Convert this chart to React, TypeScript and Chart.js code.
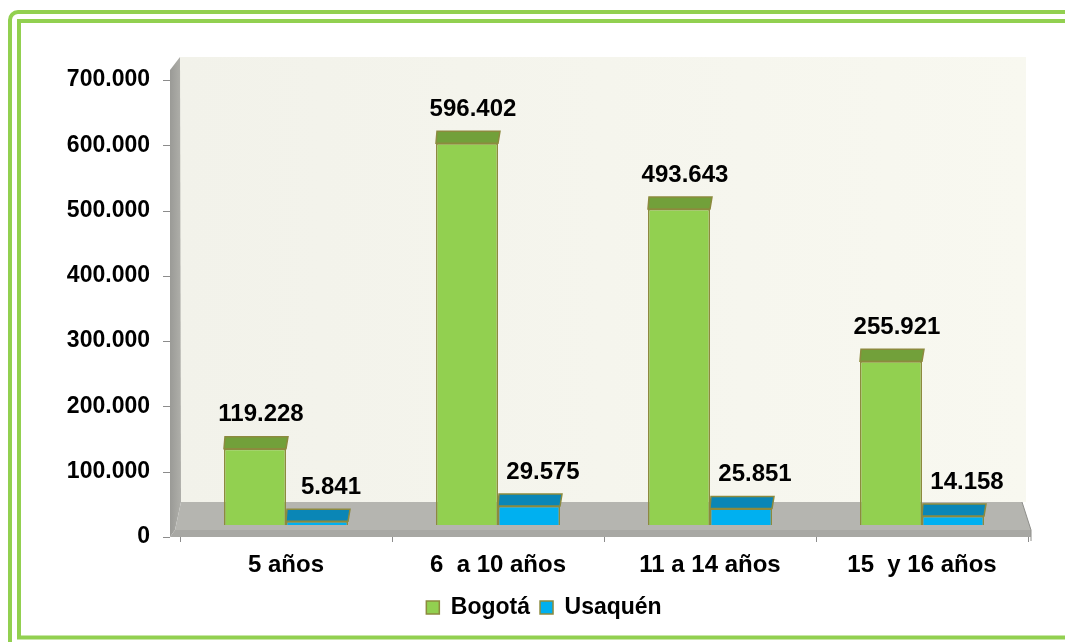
import { useEffect, useRef } from 'react';
import { Chart, registerables } from 'chart.js';

Chart.register(...registerables);

const categories = ['5 años', '6  a 10 años', '11 a 14 años', '15  y 16 años'];
const seriesNames = ['Bogotá', 'Usaquén'];
const bogota = [119228, 596402, 493643, 255921];
const usaquen = [5841, 29575, 25851, 14158];
const yMin = 0;
const yMax = 700000;
const yStep = 100000;

const frontColors = ['#92D050', '#00B0F0'];
const topColors = ['#72A03A', '#0A86B6'];
const edgeColor = '#8C8A3E';
const labelShift = [6, 14];

const FONT = '"Liberation Sans", Arial, sans-serif';

const fmt = (v: number) =>
  Math.round(v)
    .toString()
    .replace(/\B(?=(\d{3})+(?!\d))/g, '.');

const scenePlugin = {
  id: 'scene3d',
  beforeDraw(chart: any) {
    const { ctx, chartArea: a, width, height } = chart;
    ctx.save();
    ctx.fillStyle = '#FFFFFF';
    ctx.fillRect(0, 0, width, height);

    // frames
    ctx.strokeStyle = '#92D050';
    ctx.lineWidth = 4;
    ctx.beginPath();
    (ctx as any).roundRect(10, 12, width + 40, height + 40, 8);
    ctx.stroke();
    ctx.beginPath();
    ctx.rect(19, 21, width + 40, 616.5);
    ctx.stroke();

    const L = a.left;
    const R = a.right;
    const T = a.top;
    const B = a.bottom;
    const floorBack = B - 35;
    const floorFront = B - 7;

    // back wall
    const g = ctx.createLinearGradient(L, 0, R, 0);
    g.addColorStop(0, '#F2F2EA');
    g.addColorStop(1, '#F8F8F0');
    ctx.fillStyle = g;
    ctx.fillRect(L, T - 23, R - 2 - L, floorBack - (T - 23));

    // side wall
    const sg = ctx.createLinearGradient(L - 10, 0, L, 0);
    sg.addColorStop(0, '#9A9A96');
    sg.addColorStop(1, '#ADADA8');
    ctx.fillStyle = sg;
    ctx.beginPath();
    ctx.moveTo(L - 10, T - 10);
    ctx.lineTo(L, T - 23);
    ctx.lineTo(L + 1, floorBack);
    ctx.lineTo(L - 5, floorFront);
    ctx.lineTo(L - 10, B);
    ctx.closePath();
    ctx.fill();

    // floor
    ctx.fillStyle = '#B5B5B0';
    ctx.beginPath();
    ctx.moveTo(L + 1, floorBack);
    ctx.lineTo(R - 6, floorBack);
    ctx.lineTo(R + 3, floorFront);
    ctx.lineTo(L - 5, floorFront);
    ctx.closePath();
    ctx.fill();
    ctx.fillStyle = '#A8A8A4';
    ctx.beginPath();
    ctx.moveTo(L - 5, floorFront);
    ctx.lineTo(R + 3, floorFront);
    ctx.lineTo(R + 3, B);
    ctx.lineTo(L - 10, B);
    ctx.closePath();
    ctx.fill();
    ctx.strokeStyle = '#8E8E8A';
    ctx.lineWidth = 1;
    ctx.beginPath();
    ctx.moveTo(R - 6, floorBack);
    ctx.lineTo(R + 3, floorFront);
    ctx.lineTo(R + 3, B + 4);
    ctx.stroke();
    ctx.restore();
  },
  afterDatasetsDraw(chart: any) {
    const { ctx } = chart;
    const depth = 12;
    ctx.save();
    chart.data.datasets.forEach((ds: any, di: number) => {
      const meta = chart.getDatasetMeta(di);
      meta.data.forEach((bar: any, i: number) => {
        const { x, y, width } = bar.getProps(['x', 'y', 'width'], true);
        const x0 = x - width / 2;
        ctx.fillStyle = topColors[di];
        ctx.strokeStyle = edgeColor;
        ctx.lineWidth = 1.5;
        ctx.beginPath();
        ctx.moveTo(x0, y);
        ctx.lineTo(x0 + 1, y - depth);
        ctx.lineTo(x0 + width + 2, y - depth);
        ctx.lineTo(x0 + width, y);
        ctx.closePath();
        ctx.fill();
        ctx.stroke();
        ctx.fillStyle = '#000000';
        ctx.font = `bold 24px ${FONT}`;
        ctx.textAlign = 'center';
        ctx.textBaseline = 'middle';
        ctx.fillText(fmt(ds.data[i]), x + labelShift[di], y - depth - 22);
      });
    });
    ctx.restore();
  },
  afterDraw(chart: any) {
    const { ctx, chartArea: a } = chart;
    const ys = chart.scales.y;
    ctx.save();
    ctx.strokeStyle = '#8C8C8C';
    ctx.lineWidth = 1;
    ys.ticks.forEach((t: any) => {
      const py = Math.round(ys.getPixelForValue(t.value)) + 0.5;
      ctx.beginPath();
      ctx.moveTo(a.left - 17, py);
      ctx.lineTo(a.left - 10, py);
      ctx.stroke();
    });
    ctx.restore();
  },
};

export default function App() {
  const ref = useRef<HTMLCanvasElement | null>(null);

  useEffect(() => {
    if (!ref.current) return;
    const font = { family: FONT, size: 24, weight: 'bold' as const };
    const smallFont = { family: FONT, size: 23, weight: 'bold' as const };
    const chart = new Chart(ref.current, {
      type: 'bar',
      data: {
        labels: categories,
        datasets: [
          {
            label: seriesNames[0],
            data: bogota,
            backgroundColor: frontColors[0],
            borderColor: edgeColor,
            borderWidth: 1.5,
            yAxisID: 'yb',
            barPercentage: 1,
            categoryPercentage: 0.585,
          },
          {
            label: seriesNames[1],
            data: usaquen,
            backgroundColor: frontColors[1],
            borderColor: edgeColor,
            borderWidth: 1.5,
            yAxisID: 'yb',
            barPercentage: 1,
            categoryPercentage: 0.585,
          },
        ],
      },
      options: {
        responsive: false,
        animation: false,
        layout: { padding: { left: 60, right: 37, top: 80, bottom: 13 } },
        plugins: {
          tooltip: { enabled: false },
          legend: {
            display: true,
            position: 'bottom',
            labels: {
              boxWidth: 13,
              boxHeight: 13,
              padding: 10,
              color: '#000000',
              font: smallFont,
            },
          },
        },
        scales: {
          x: {
            grid: {
              display: true,
              drawOnChartArea: false,
              drawTicks: true,
              tickLength: 5,
              color: '#8C8C8C',
              offset: true,
            },
            border: { display: false },
            ticks: { color: '#000000', font, padding: 9, maxRotation: 0 },
            afterFit: (s: any) => {
              s.height = 49;
            },
          },
          y: {
            position: 'left',
            min: yMin,
            max: yMax,
            grid: { display: false, drawTicks: false },
            border: { display: false },
            ticks: {
              stepSize: yStep,
              color: '#000000',
              font: smallFont,
              padding: 30,
              callback: (v: any) => fmt(Number(v)),
            },
            afterFit: (s: any) => {
              s.width = 120;
            },
          },
          yb: {
            display: false,
            min: -18750,
            max: 695310,
          },
        },
      },
      plugins: [scenePlugin],
    });
    return () => chart.destroy();
  }, []);

  return (
    <div style={{ position: 'fixed', left: 0, top: 0, width: 1065, height: 642 }}>
      <canvas ref={ref} width={1065} height={642} style={{ width: 1065, height: 642, display: 'block' }} />
    </div>
  );
}
